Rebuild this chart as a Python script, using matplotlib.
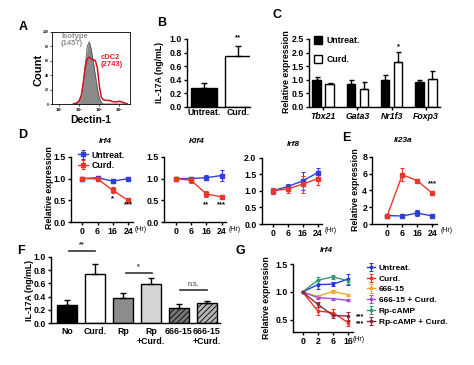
import numpy as np
import matplotlib
matplotlib.use('Agg')
import matplotlib.pyplot as plt

plt.rcParams['font.family'] = ['Liberation Sans', 'DejaVu Sans']
plt.rcParams['font.weight'] = 'bold'
plt.rcParams['axes.labelweight'] = 'bold'
plt.rcParams['hatch.linewidth'] = 0.6

# ---------------- DATA ----------------
# A: flow histogram (log10 decade units)
hist_x = [0.7, 0.8, 0.9, 1.0, 1.1, 1.2, 1.3, 1.4, 1.5, 1.6, 1.7, 1.8, 1.9, 2.0,
          2.1, 2.2, 2.3, 2.4, 2.5, 2.6, 2.7, 2.8, 2.9, 3.0, 3.1, 3.2, 3.3, 3.4]
iso_counts = [0, 0, 1, 3, 10, 28, 55, 80, 86, 75, 58, 40, 22, 8,
              2, 0, 0, 0, 0, 0, 0, 0, 0, 0, 0, 0, 0, 0]
cdc2_counts = [0, 1, 2, 5, 12, 30, 52, 63, 65, 62, 61, 60, 50, 25,
               9, 6, 5, 5, 5, 4, 3, 3, 3, 4, 3, 2, 1, 0]
hist_ticks = ['$10^1$', '$10^2$', '$10^3$', '$10^4$']
hist_yticks = [0, 20, 40, 60, 80, 100]

# B
b_groups = ['Untreat.', 'Curd.']
b_vals = [0.28, 0.75]
b_err = [0.07, 0.14]

# C
c_genes = ['Tbx21', 'Gata3', 'Nr1f3', 'Foxp3']
c_untreat = [0.97, 0.85, 1.00, 0.93]
c_untreat_err = [0.13, 0.13, 0.18, 0.07]
c_curd = [0.82, 0.67, 1.65, 1.03]
c_curd_err = [0.06, 0.23, 0.37, 0.28]

# D / E
time_labels = ['0', '6', '16', '24']
irf4_untreat = [1.00, 1.02, 0.94, 1.00]
irf4_untreat_err = [0.03, 0.04, 0.05, 0.04]
irf4_curd = [1.00, 0.99, 0.73, 0.50]
irf4_curd_err = [0.03, 0.05, 0.07, 0.04]
klf4_untreat = [1.00, 1.00, 1.02, 1.07]
klf4_untreat_err = [0.03, 0.04, 0.06, 0.12]
klf4_curd = [1.00, 0.96, 0.65, 0.58]
klf4_curd_err = [0.03, 0.05, 0.07, 0.05]
irf8_untreat = [1.00, 1.13, 1.30, 1.55]
irf8_untreat_err = [0.10, 0.08, 0.28, 0.15]
irf8_curd = [1.00, 1.06, 1.20, 1.37]
irf8_curd_err = [0.10, 0.12, 0.26, 0.20]
il23a_untreat = [1.00, 0.95, 1.30, 0.95]
il23a_untreat_err = [0.05, 0.08, 0.35, 0.08]
il23a_curd = [1.00, 5.85, 5.15, 3.65]
il23a_curd_err = [0.08, 0.75, 0.15, 0.15]

# F
f_groups = ['No', 'Curd.', 'Rp', 'Rp\n+Curd.', '666-15', '666-15\n+Curd.']
f_vals = [0.275, 0.735, 0.375, 0.585, 0.235, 0.31]
f_err = [0.075, 0.155, 0.075, 0.10, 0.05, 0.03]

# G
g_times = ['0', '2', '6', '16']
g_names = ['Untreat.', 'Curd.', '666-15', '666-15 + Curd.', 'Rp-cAMP', 'Rp-cAMP + Curd.']
g_untreat = [1.00, 1.13, 1.14, 1.23]
g_untreat_err = [0.0, 0.08, 0.03, 0.10]
g_curd = [1.00, 0.66, 0.63, 0.45]
g_curd_err = [0.0, 0.08, 0.06, 0.05]
g_666 = [1.00, 0.92, 1.01, 0.95]
g_666_err = [0.0, 0.02, 0.03, 0.02]
g_666_curd = [1.00, 0.90, 0.88, 0.85]
g_666_curd_err = [0.0, 0.02, 0.02, 0.02]
g_rp = [1.00, 1.21, 1.27, 1.20]
g_rp_err = [0.0, 0.05, 0.04, 0.05]
g_rp_curd = [1.00, 0.78, 0.58, 0.57]
g_rp_curd_err = [0.0, 0.04, 0.05, 0.08]

# ---------------- FIGURE ----------------
W, H = 474, 365
fig = plt.figure(figsize=(W / 100, H / 100), dpi=100)
fig.patch.set_facecolor('white')

BLUE = '#2f3fd8'
RED = '#e8382b'
TFS = 6.3


def px_axes(x0, y0, x1, y1):
    return fig.add_axes([x0 / W, 1 - y1 / H, (x1 - x0) / W, (y1 - y0) / H])


def ftext(x, y, s, **kw):
    kw.setdefault('ha', 'center')
    kw.setdefault('va', 'center')
    return fig.text(x / W, 1 - y / H, s, **kw)


def prism(ax):
    for s in ['top', 'right']:
        ax.spines[s].set_visible(False)
    for s in ['left', 'bottom']:
        ax.spines[s].set_linewidth(1.0)
    ax.tick_params(width=1.0, length=2.5, labelsize=TFS, pad=1.2)


def letter(x, y, s):
    ftext(x, y, s, fontsize=9, fontweight='bold')


# ---- A ----
axA = px_axes(51.7, 31.7, 130, 104)
axA.fill_between(hist_x, iso_counts, color='#8a8a8a', lw=0)
axA.plot(hist_x, iso_counts, color='#555555', lw=0.6)
axA.plot(hist_x, cdc2_counts, color='#d0101c', lw=1.1)
axA.set_xlim(-0.38, 3.53)
axA.set_ylim(0, 100)
axA.set_xticks(range(len(hist_ticks)))
axA.set_xticklabels(hist_ticks)
axA.set_yticks(hist_yticks)
axA.tick_params(labelsize=2.5, length=1.5, width=0.5, pad=0.6)
for s in axA.spines.values():
    s.set_linewidth(0.6)
ftext(61, 40, 'Isotype\n(1457)', ha='left', fontsize=5.5, color='#8c8c8c', linespacing=1.1)
ftext(101, 61, 'cDC2\n(2743)', ha='left', fontsize=5.5, color='#e0202a', linespacing=1.1)
ftext(38, 70, 'Count', rotation=90, fontsize=8)
ftext(91, 120, 'Dectin-1', fontsize=7.5)
letter(22.7, 26.7, 'A')

# ---- B ----
axB = px_axes(187, 39, 250, 106.7)
prism(axB)
xb = np.arange(len(b_groups))
axB.bar(xb, b_vals, width=0.76, color=['black', 'white'], edgecolor='black', lw=1.0,
        yerr=[[0, 0], b_err], capsize=2.5, error_kw=dict(elinewidth=1.0, capthick=1.0))
axB.set_xlim(-0.5, 1.35)
axB.set_ylim(0, 1.0)
axB.set_yticks([0, 0.2, 0.4, 0.6, 0.8, 1.0])
axB.set_yticklabels(['0.0', '0.2', '0.4', '0.6', '0.8', '1.0'])
axB.set_xticks(xb)
axB.set_xticklabels(b_groups)
axB.tick_params(axis='x', length=0)
axB.text(1, 0.97, '**', ha='center', va='bottom', fontsize=5.5)
ftext(160, 72, 'IL-17A (ng/mL)', rotation=90, fontsize=TFS)
letter(161.7, 23.3, 'B')

# ---- C ----
axC = px_axes(309, 39, 440, 106.7)
prism(axC)
xc = np.arange(len(c_genes))
axC.bar(xc - 0.19, c_untreat, width=0.245, color='black', edgecolor='black', lw=1.0,
        yerr=[[0] * 4, c_untreat_err], capsize=1.8, error_kw=dict(elinewidth=1.0, capthick=1.0),
        label='Untreat.')
axC.bar(xc + 0.19, c_curd, width=0.245, color='white', edgecolor='black', lw=1.0,
        yerr=[[0] * 4, c_curd_err], capsize=1.8, error_kw=dict(elinewidth=1.0, capthick=1.0),
        label='Curd.')
axC.set_xlim(-0.41, 3.41)
axC.set_ylim(0, 2.5)
axC.set_yticks([0, 0.5, 1.0, 1.5, 2.0, 2.5])
axC.set_yticklabels(['0.0', '0.5', '1.0', '1.5', '2.0', '2.5'])
axC.set_xticks(xc)
axC.set_xticklabels(c_genes, fontstyle='italic')
axC.text(2.19, 2.1, '*', ha='center', va='bottom', fontsize=5.5)
axC.legend(loc='upper left', bbox_to_anchor=(314 / W, 1 - 36 / H), bbox_transform=fig.transFigure,
           frameon=False, fontsize=TFS, handlelength=0.9, handleheight=0.9, handletextpad=0.5,
           labelspacing=1.15, borderpad=0, borderaxespad=0)
ftext(286.7, 72, 'Relative expression', rotation=90, fontsize=TFS)
letter(276.7, 15, 'C')


# ---- D / E line panels ----
def line_panel(rect, xlim, ylim, yticks, yticklabels, title, title_xy, series, hr_xy):
    ax = px_axes(*rect)
    prism(ax)
    x = np.arange(len(time_labels))
    for vals, err, col, lab in series:
        ax.errorbar(x, vals, yerr=err, color=col, marker='s', ms=2.4, lw=1.0,
                    elinewidth=0.8, capsize=1.5, capthick=0.8, label=lab, clip_on=False)
    ax.set_xlim(*xlim)
    ax.set_ylim(*ylim)
    ax.set_yticks(yticks)
    ax.set_yticklabels(yticklabels)
    ax.set_xticks(x)
    ax.set_xticklabels(time_labels)
    ftext(title_xy[0], title_xy[1], title, fontsize=6, fontstyle='italic')
    ftext(hr_xy[0], hr_xy[1], '(Hr)', fontsize=5, fontweight='normal')
    return ax


axD1 = line_panel((71, 156.7, 132.8, 222.3), (-0.74, 3.3), (0, 1.5), [0, 0.5, 1.0, 1.5],
                  ['0.0', '0.5', '1.0', '1.5'], 'Irf4', (105, 141.7),
                  [(irf4_untreat, irf4_untreat_err, BLUE, 'Untreat.'),
                   (irf4_curd, irf4_curd_err, RED, 'Curd.')], (141, 229.5))
axD1.text(2, 0.55, '*', ha='center', va='center', fontsize=5.5)
axD1.text(3, 0.40, '***', ha='center', va='center', fontsize=5.5)
axD1.legend(loc='upper left', bbox_to_anchor=(78 / W, 1 - 150.5 / H), bbox_transform=fig.transFigure,
            frameon=False, fontsize=TFS, handlelength=1.1, handletextpad=0.4,
            labelspacing=0.15, borderpad=0, borderaxespad=0)

axD2 = line_panel((164.3, 156.7, 226.3, 222.3), (-0.74, 3.3), (0, 1.5), [0, 0.5, 1.0, 1.5],
                  ['0.0', '0.5', '1.0', '1.5'], 'Klf4', (197, 141.7),
                  [(klf4_untreat, klf4_untreat_err, BLUE, 'Untreat.'),
                   (klf4_curd, klf4_curd_err, RED, 'Curd.')], (235, 229.5))
axD2.text(2, 0.40, '**', ha='center', va='center', fontsize=5.5)
axD2.text(3, 0.40, '***', ha='center', va='center', fontsize=5.5)

axD3 = line_panel((261.6, 157.7, 322.2, 224), (-0.74, 3.3), (0, 2.0), [0, 0.5, 1.0, 1.5, 2.0],
                  ['0.0', '0.5', '1.0', '1.5', '2.0'], 'Irf8', (293, 145),
                  [(irf8_untreat, irf8_untreat_err, BLUE, 'Untreat.'),
                   (irf8_curd, irf8_curd_err, RED, 'Curd.')], (331, 231))

axE = line_panel((372.3, 156.7, 436.8, 224), (-1.0, 3.3), (0, 8), [0, 2, 4, 6, 8],
                 ['0', '2', '4', '6', '8'], 'Il23a', (403, 140.7),
                 [(il23a_untreat, il23a_untreat_err, BLUE, 'Untreat.'),
                  (il23a_curd, il23a_curd_err, RED, 'Curd.')], (447, 231))
axE.text(3, 4.76, '***', ha='center', va='center', fontsize=5.5)

ftext(50, 188, 'Relative expression', rotation=90, fontsize=TFS)
ftext(356, 190, 'Relative expression', rotation=90, fontsize=TFS)
letter(22.7, 135, 'D')
letter(346, 138, 'E')

# ---- F ----
axF = px_axes(51, 256.7, 220, 323.3)
prism(axF)
xf = np.arange(len(f_groups))
f_face = ['black', 'white', '#8c8c8c', '#d4d4d4', '#777777', '#b5b5b5']
f_hatch = [None, None, None, None, '//////', '//////']
bars = axF.bar(xf, f_vals, width=0.72, color=f_face, edgecolor='black', lw=1.0,
               yerr=[[0] * 6, f_err], capsize=2.2, error_kw=dict(elinewidth=1.0, capthick=1.0))
for b, h in zip(bars, f_hatch):
    if h:
        b.set_hatch(h)
axF.set_xlim(-0.58, 5.48)
axF.set_ylim(0, 1.0)
axF.set_yticks([0, 0.2, 0.4, 0.6, 0.8, 1.0])
axF.set_yticklabels(['0.0', '0.2', '0.4', '0.6', '0.8', '1.0'])
axF.set_xticks(xf)
axF.set_xticklabels(f_groups, linespacing=1.1)
axF.tick_params(axis='x', length=0, pad=3)
for (a, b_, y, s, wgt) in [(0.07, 0.99, 1.09, '**', 'bold'), (2.1, 3.03, 0.76, '*', 'bold'),
                           (4.05, 5.0, 0.50, 'n.s.', 'normal')]:
    axF.plot([a, b_], [y, y], color='#333333', lw=1.2, clip_on=False)
    axF.text((a + b_) / 2, y + 0.03, s, ha='center', va='bottom', fontsize=5.2,
             fontweight=wgt, color='#333333')
ftext(30, 290, 'IL-17A (ng/mL)', rotation=90, fontsize=TFS)
letter(20.7, 250.7, 'F')

# ---- G ----
axG = px_axes(293, 264, 352.7, 331.7)
prism(axG)
xg = np.arange(len(g_times))
g_series = [(g_untreat, g_untreat_err, '#2a3ad0'),
            (g_curd, g_curd_err, '#e8342a'),
            (g_666, g_666_err, '#f5a52a'),
            (g_666_curd, g_666_curd_err, '#a24be6'),
            (g_rp, g_rp_err, '#2f9a74'),
            (g_rp_curd, g_rp_curd_err, '#8e2a3c')]
for (vals, err, col), name in zip(g_series, g_names):
    axG.errorbar(xg, vals, yerr=err, color=col, marker='s', ms=2.0, lw=1.0,
                 elinewidth=0.8, capsize=1.5, capthick=0.8, label=name, clip_on=False)
axG.set_xlim(-0.63, 3.3)
axG.set_ylim(0.29, 1.5)
axG.set_yticks([0.5, 1.0, 1.5])
axG.set_yticklabels(['0.5', '1.0', '1.5'])
axG.set_xticks(xg)
axG.set_xticklabels(g_times)
axG.text(3.77, 0.565, '***', ha='center', va='center', fontsize=5)
axG.text(3.77, 0.43, '***', ha='center', va='center', fontsize=5)
axG.legend(loc='upper left', bbox_to_anchor=(367 / W, 1 - 264 / H), bbox_transform=fig.transFigure,
           frameon=False, fontsize=6, handlelength=1.0, handletextpad=0.4,
           labelspacing=0.35, borderpad=0, borderaxespad=0)
ftext(326.7, 250.7, 'Irf4', fontsize=6, fontstyle='italic')
ftext(359, 339.3, '(Hr)', fontsize=5, fontweight='normal')
ftext(266.7, 298, 'Relative expression', rotation=90, fontsize=TFS)
letter(240.7, 250.7, 'G')

fig.savefig('out.png', dpi=100)
